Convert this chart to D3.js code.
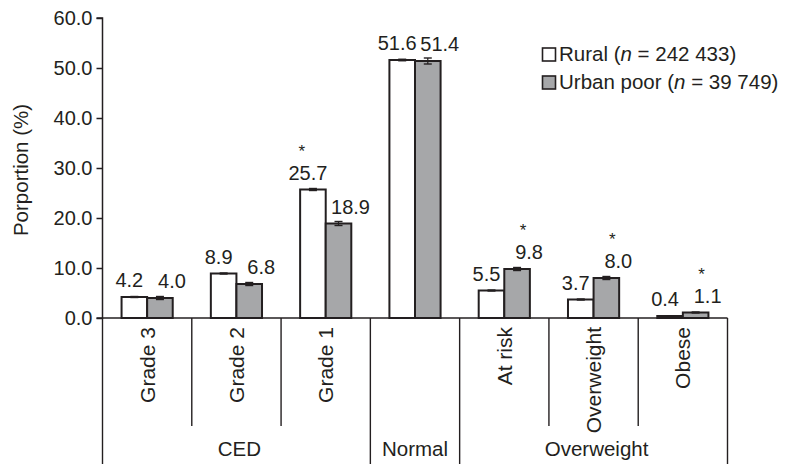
<!DOCTYPE html>
<html>
<head>
<meta charset="utf-8">
<script src="https://cdn.jsdelivr.net/npm/d3@7"></script>
<style>
  html, body { margin: 0; padding: 0; background: #fff; }
  svg text { font-family: "Liberation Sans", Arial, Helvetica, sans-serif; fill: #231f20; }
</style>
</head>
<body>
<svg id="chart" width="786" height="464"></svg>
<script>
// ---- data ----
const categories = ["Grade 3", "Grade 2", "Grade 1", "Normal", "At risk", "Overweight", "Obese"];
const groupOf = ["CED", "CED", "CED", "Normal", "Overweight", "Overweight", "Overweight"];
const groupNames = ["CED", "Normal", "Overweight"];
const seriesNames = ["Rural", "Urban poor"];
const seriesN = ["242 433", "39 749"];
const rural = [4.2, 8.9, 25.7, 51.6, 5.5, 3.7, 0.4];
const urban = [4.0, 6.8, 18.9, 51.4, 9.8, 8.0, 1.1];
const ruralErr = [0.1, 0.1, 0.2, 0.15, 0.1, 0.1, 0.05];
const urbanErr = [0.3, 0.3, 0.4, 0.6, 0.3, 0.3, 0.1];
const ruralSig = [false, false, true, false, false, false, false];
const urbanSig = [false, false, false, false, true, true, true];
const yTicks = [0, 10, 20, 30, 40, 50, 60];

// ---- layout ----
const svg = d3.select("#chart");
const plotLeft = 102.5, plotRight = 727.5, plotTop = 18, plotBase = 318;
const ink = "#231f20";
const fills = ["#ffffff", "#a6a7a9"];

const x = d3.scaleBand().domain(categories).range([plotLeft, plotRight]).paddingInner(0).paddingOuter(0);
const x1 = d3.scaleBand().domain(seriesNames).range([0, x.bandwidth()]).paddingInner(0).paddingOuter(0.745);
const y = d3.scaleLinear().domain([0, 60]).range([plotBase, plotTop]);

const rows = categories.map((c, i) => ({
  cat: c,
  vals: [
    {s: seriesNames[0], v: rural[i], e: ruralErr[i], sig: ruralSig[i], k: 0},
    {s: seriesNames[1], v: urban[i], e: urbanErr[i], sig: urbanSig[i], k: 1}
  ]
}));

// bars
const g = svg.append("g");
const cg = g.selectAll("g.cat").data(rows).join("g")
  .attr("transform", d => `translate(${x(d.cat)},0)`);

cg.selectAll("rect").data(d => d.vals).join("rect")
  .attr("x", d => x1(d.s))
  .attr("y", d => y(d.v))
  .attr("width", x1.bandwidth())
  .attr("height", d => plotBase - y(d.v))
  .attr("fill", d => fills[d.k])
  .attr("stroke", ink)
  .attr("stroke-width", 2);

// error bars
const eb = cg.selectAll("g.err").data(d => d.vals).join("g").attr("class", "err");
const cx = d => x1(d.s) + x1.bandwidth() / 2;
eb.append("line")
  .attr("x1", cx).attr("x2", cx)
  .attr("y1", d => y(d.v + d.e)).attr("y2", d => y(d.v - d.e))
  .attr("stroke", ink).attr("stroke-width", 1.2);
eb.append("line")
  .attr("x1", d => cx(d) - 4).attr("x2", d => cx(d) + 4)
  .attr("y1", d => y(d.v + d.e)).attr("y2", d => y(d.v + d.e))
  .attr("stroke", ink).attr("stroke-width", 1.4);
eb.append("line")
  .attr("x1", d => cx(d) - 4).attr("x2", d => cx(d) + 4)
  .attr("y1", d => y(d.v - d.e)).attr("y2", d => y(d.v - d.e))
  .attr("stroke", ink).attr("stroke-width", 1.4);

// value labels
const labelShift = [-5, 12];
cg.selectAll("text.val").data(d => d.vals).join("text").attr("class", "val")
  .attr("x", d => cx(d) + labelShift[d.k])
  .attr("y", d => y(d.v) - 10)
  .attr("text-anchor", "middle")
  .attr("font-size", 20)
  .text(d => d.v.toFixed(1));

// significance stars
cg.selectAll("text.star").data(d => d.vals.filter(v => v.sig)).join("text").attr("class", "star")
  .attr("x", d => cx(d) + labelShift[d.k] - 6)
  .attr("y", d => y(d.v) - 10 - 23)
  .attr("text-anchor", "middle")
  .attr("font-size", 17)
  .text("*");

// y axis
const yAxis = d3.axisLeft(y).tickValues(yTicks).tickFormat(d3.format(".1f")).tickSize(6).tickPadding(4);
const ya = svg.append("g").attr("transform", `translate(${plotLeft},0)`).call(yAxis);
ya.select(".domain").attr("stroke", ink).attr("stroke-width", 1.5).attr("d", `M-6,${plotTop}H0V${plotBase}H-6`);
ya.selectAll(".tick line").attr("stroke", ink).attr("stroke-width", 1.5);
ya.selectAll(".tick text").attr("font-size", 20).attr("fill", ink)
  .attr("font-family", "'Liberation Sans', Arial, sans-serif");

// y title
svg.append("text")
  .attr("transform", `translate(28,${(plotTop + plotBase) / 2 + 2}) rotate(-90)`)
  .attr("text-anchor", "middle")
  .attr("font-size", 20.5)
  .text("Porportion (%)");

// x axis baseline
svg.append("line").attr("x1", plotLeft).attr("x2", plotRight).attr("y1", plotBase).attr("y2", plotBase)
  .attr("stroke", ink).attr("stroke-width", 1.5);

// separators
const bounds = categories.map(c => x(c)).concat([plotRight]);
bounds.forEach((bx, i) => {
  const prev = i > 0 ? groupOf[i - 1] : null;
  const next = i < categories.length ? groupOf[i] : null;
  const outer = prev !== next;
  svg.append("line")
    .attr("x1", bx).attr("x2", bx)
    .attr("y1", plotBase).attr("y2", outer ? 464 : 426)
    .attr("stroke", ink).attr("stroke-width", 1.4);
});

// rotated category labels (single-category groups are labelled by the group label only)
const groupSize = gn => groupOf.filter(v => v === gn).length;
svg.selectAll("text.cat").data(categories.filter((c, i) => groupSize(groupOf[i]) > 1)).join("text").attr("class", "cat")
  .attr("transform", c => `translate(${x(c) + x.bandwidth() / 2},327) rotate(-90)`)
  .attr("text-anchor", "end")
  .attr("dy", "0.36em")
  .attr("font-size", 21)
  .text(c => c);

// group labels
groupNames.forEach(gn => {
  const idx = categories.map((c, i) => i).filter(i => groupOf[i] === gn);
  const x0 = x(categories[idx[0]]);
  const x2 = x(categories[idx[idx.length - 1]]) + x.bandwidth();
  svg.append("text")
    .attr("x", (x0 + x2) / 2 + (idx.length > 1 ? 3 : 0))
    .attr("y", 456)
    .attr("text-anchor", "middle")
    .attr("font-size", 20.5)
    .text(gn);
});

// legend
const lg = svg.append("g").attr("transform", "translate(542,48)");
seriesNames.forEach((s, i) => {
  const row = lg.append("g").attr("transform", `translate(0,${i * 28})`);
  row.append("rect").attr("x", 0.5).attr("y", 0).attr("width", 13).attr("height", 13)
    .attr("fill", fills[i]).attr("stroke", ink).attr("stroke-width", 1.6);
  const t = row.append("text").attr("x", 17).attr("y", 13).attr("font-size", 20.5);
  t.append("tspan").text(s + " (");
  t.append("tspan").attr("font-style", "italic").text("n");
  t.append("tspan").text(" = " + seriesN[i] + ")");
});
</script>
</body>
</html>
